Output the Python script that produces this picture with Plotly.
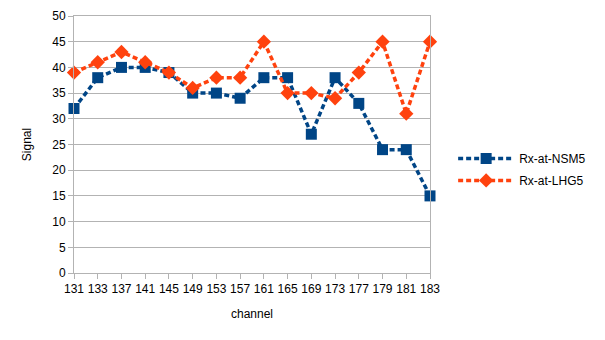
import plotly.graph_objects as go

channels = ["131", "133", "137", "141", "145", "149", "153", "157", "161", "165",
            "169", "173", "177", "179", "181", "183"]
nsm5 = [32, 38, 40, 40, 39, 35, 35, 34, 38, 38, 27, 38, 33, 24, 24, 15]
lhg5 = [39, 41, 43, 41, 39, 36, 38, 38, 45, 35, 35, 34, 39, 45, 31, 45]
y_ticks = [0, 5, 10, 15, 20, 25, 30, 35, 40, 45, 50]

FONT = "Liberation Sans, Arial, sans-serif"

fig = go.Figure()
fig.add_trace(go.Scatter(
    x=channels, y=nsm5, name="Rx-at-NSM5", mode="lines+markers",
    legendgroup="a",
    line=dict(color="#004586", width=3.5, dash="5px,3px"),
    marker=dict(symbol="square", size=11, color="#004586"),
    cliponaxis=False,
))
fig.add_trace(go.Scatter(
    x=channels, y=lhg5, name="Rx-at-LHG5", mode="lines+markers",
    legendgroup="b",
    line=dict(color="#ff420e", width=3.5, dash="5px,3px"),
    marker=dict(symbol="diamond", size=11, color="#ff420e"),
    cliponaxis=False,
))

fig.update_layout(
    width=605, height=340,
    margin=dict(l=74, r=175, t=9, b=67),
    paper_bgcolor="white", plot_bgcolor="white",
    font=dict(family=FONT, size=12, color="black"),
    legend=dict(x=1.065, y=0.403, xanchor="left", yanchor="middle",
                font=dict(size=12), tracegroupgap=3, itemwidth=56,
                bgcolor="rgba(0,0,0,0)"),
    showlegend=True,
)
fig.update_xaxes(
    type="category", range=[0, len(channels) - 1],
    showline=True, linecolor="#b3b3b3", linewidth=1, mirror=True,
    ticks="outside", ticklen=5, tickcolor="#b3b3b3",
    showgrid=False, zeroline=False,
    title=dict(text="channel", font=dict(size=12), standoff=14),
    tickfont=dict(size=12),
)
fig.update_yaxes(
    range=[0, 50], tickvals=y_ticks,
    showline=True, linecolor="#b3b3b3", linewidth=1, mirror=True,
    ticks="outside", ticklen=5, tickcolor="#b3b3b3",
    showgrid=True, gridcolor="#b3b3b3", gridwidth=1, zeroline=False,
    title=dict(text="Signal", font=dict(size=12), standoff=18),
    tickfont=dict(size=12),
)

fig.write_html("out.html")
